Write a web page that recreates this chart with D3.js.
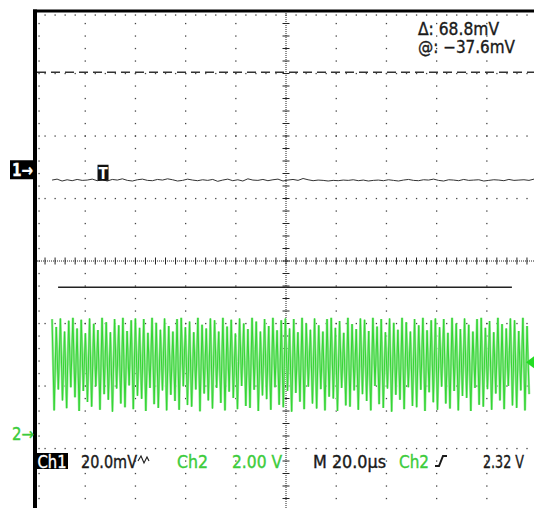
<!DOCTYPE html>
<html>
<head>
<meta charset="utf-8">
<script src="https://cdn.jsdelivr.net/npm/d3@7"></script>
<style>
  html, body { margin: 0; padding: 0; background: #fff; }
  svg { display: block; }
</style>
</head>
<body>
<div id="scope"></div>
<script>
// Scope settings
const CH1_SCALE = 20;    // mV/div
const CH2_SCALE = 2;     // V/div
const TIME_SCALE = 20;   // µs/div
const CH1_POS = 1.46;    // div above center
const CH2_POS = -2.78;
const TRIG_TIME = 27.1;  // µs
const TRIG_LEVEL = 2.32; // V

// Cursor readout (mV, ch1)
const cursorAt = -37.6;
const cursorDelta = 68.8;

// Ch1 trace, mV, sampled every 2 µs from 6.8 µs
const ch1Start = 6.8;
const ch1Step = 2.0;
const ch1Trace = [
  -3.3,-3.0,-3.6,-3.2,-3.5,-3.1,-3.4,-3.3,-3.0,-3.5,
  -3.2,-3.6,-3.1,-3.3,-2.9,-3.4,-3.6,-3.2,-3.0,-3.4,
  -3.5,-3.1,-3.3,-2.9,-3.2,-3.6,-3.4,-3.0,-3.3,-3.5,
  -3.2,-3.4,-3.1,-3.7,-3.3,-3.0,-3.5,-3.2,-3.6,-2.9,
  -3.3,-3.4,-3.1,-3.5,-3.2,-3.0,-3.6,-3.3,-3.1,-3.4,
  -2.8,-3.2,-3.5,-3.3,-3.4,-3.6,-3.4,-3.5,-3.3,-3.4,
  -3.2,-3.5,-3.3,-3.6,-3.4,-3.3,-3.5,-3.2,-3.4,-3.6,
  -3.3,-3.1,-3.4,-3.5,-3.2,-3.3,-3.0,-3.4,-3.6,-3.2,
  -3.3,-3.5,-3.1,-3.4,-3.3,-3.2,-3.6,-3.4,-3.2,-3.3,
  -3.5,-3.1,-3.4,-3.3,-3.2,-3.4,-3.0
];

// Ch2 trace, V: peak high / low of each cycle, period 1.66 µs from 6.8 µs
const ch2Start = 6.8;
const ch2Period = 1.66;
const ch2Hi = [
  3.70,3.45,3.72,3.30,3.65,3.74,3.40,3.68,3.25,3.72,3.55,3.35,3.74,3.60,3.28,3.70,3.50,3.74,3.32,3.66,
  3.72,3.42,3.70,3.26,3.74,3.58,3.36,3.72,3.48,3.30,3.70,3.74,3.44,3.62,3.28,3.74,3.52,3.40,3.72,3.66,
  3.30,3.74,3.46,3.68,3.24,3.72,3.56,3.38,3.74,3.62,3.30,3.70,3.48,3.74,3.34,3.66,3.72,3.40,3.70,3.28,
  3.74,3.56,3.36,3.72,3.50,3.30,3.70,3.74,3.42,3.64,3.26,3.74,3.54,3.38,3.72,3.68,3.32,3.74,3.46,3.70,
  3.28,3.72,3.58,3.36,3.74,3.60,3.30,3.70,3.50,3.74,3.34,3.66,3.72,3.44,3.70,3.26,3.74,3.56,3.38,3.72,
  3.52,3.30,3.70,3.74,3.42,3.64,3.28,3.74,3.54,3.40,3.72,3.66,3.32,3.74,3.48
];
const ch2Lo = [
  0.78,1.45,1.10,0.85,1.52,1.20,0.76,1.40,1.05,0.90,1.55,0.80,1.30,1.12,0.74,1.48,1.00,0.88,1.58,0.82,
  1.25,1.15,0.76,1.50,0.98,0.86,1.42,0.78,1.28,1.08,0.80,1.55,0.95,0.90,1.45,0.75,1.32,1.10,0.84,1.50,
  1.02,0.78,1.38,1.18,0.82,1.56,0.92,0.86,1.44,0.76,1.26,1.14,0.80,1.52,0.96,0.88,1.40,0.74,1.34,1.06,
  0.82,1.54,1.00,0.84,1.46,0.78,1.22,1.16,0.76,1.50,0.94,0.90,1.42,0.80,1.30,1.08,0.78,1.56,0.98,0.86,
  1.48,0.74,1.28,1.12,0.82,1.52,0.92,0.88,1.44,0.76,1.36,1.04,0.80,1.54,1.00,0.84,1.40,0.78,1.24,1.18,
  0.76,1.50,0.96,0.90,1.46,0.80,1.32,1.10,0.82,1.56,0.94,0.86,1.42,0.78,1.30
];

// Bottom status line
const statusItems = [
  { text: "20.0mV", color: "black", x: 81, w: 56 },
  { text: "Ch2", color: "green", x: 177, w: 31 },
  { text: "2.00 V", color: "green", x: 232, w: 50 },
  { text: "M 20.0µs", color: "black", x: 313, w: 73 },
  { text: "Ch2", color: "green", x: 399, w: 30 },
  { text: "2.32 V", color: "black", x: 483, w: 41 }
];

(function () {
  const W = 534, H = 508;
  const GREEN = "#33d633";
  const GREEN_TXT = "#3ccc3c";
  const INK = "#1a1a1a";
  const FONT = "'Liberation Sans Narrow', 'DejaVu Sans Condensed', 'Liberation Sans', sans-serif";

  const svg = d3.select("#scope").append("svg")
    .attr("width", W).attr("height", H)
    .style("background", "#fff");

  // 10 x 8 division screen, partly cropped on the right and bottom
  const x = d3.scaleLinear().domain([0, 10 * TIME_SCALE]).range([35, 537]);
  const yD = d3.scaleLinear().domain([-4, 4]).range([511, 11]);
  const y1 = mv => yD(CH1_POS + mv / CH1_SCALE);
  const y2 = v => yD(CH2_POS + v / CH2_SCALE);

  const grid = svg.append("g");
  const minorX = d3.range(0, 10.001, 0.2).map(d => d * TIME_SCALE);
  const minorY = d3.range(-4, 4.001, 0.2);

  // dotted major lines
  const vDots = [];
  [1, 2, 3, 4, 6, 7, 8, 9].forEach(i => minorY.forEach(v => vDots.push([x(i * TIME_SCALE), yD(v)])));
  const hDots = [];
  [-3, -2, -1, 1, 2, 3].forEach(j => minorX.forEach(t => hDots.push([x(t), yD(j)])));
  // edge ticks
  minorX.forEach(t => hDots.push([x(t), yD(4) + 4]));
  minorY.forEach(v => vDots.push([x(0) + 4, yD(v)]));

  grid.selectAll("rect.dot").data(vDots.concat(hDots)).enter().append("rect")
    .attr("class", "dot")
    .attr("x", d => d[0] - 0.6).attr("y", d => d[1] - 0.6)
    .attr("width", 1.3).attr("height", 1.3)
    .attr("fill", "#444");

  // center crosshair
  grid.append("line")
    .attr("x1", x(0)).attr("x2", x(200)).attr("y1", yD(0)).attr("y2", yD(0))
    .attr("stroke", "#222").attr("stroke-width", 1).attr("stroke-dasharray", "1,1");
  grid.append("line")
    .attr("x1", x(100)).attr("x2", x(100)).attr("y1", yD(4)).attr("y2", yD(-4))
    .attr("stroke", "#222").attr("stroke-width", 1).attr("stroke-dasharray", "1,1");
  grid.selectAll("line.tx").data(minorX).enter().append("line")
    .attr("class", "tx")
    .attr("x1", d => x(d)).attr("x2", d => x(d))
    .attr("y1", yD(0) - 3.5).attr("y2", yD(0) + 3.5)
    .attr("stroke", "#222").attr("stroke-width", 1);
  grid.selectAll("line.ty").data(minorY).enter().append("line")
    .attr("class", "ty")
    .attr("y1", d => yD(d)).attr("y2", d => yD(d))
    .attr("x1", x(100) - 3.5).attr("x2", x(100) + 3.5)
    .attr("stroke", "#222").attr("stroke-width", 1);

  // frame (top and left edges visible)
  svg.append("line")
    .attr("x1", x(0) - 2).attr("x2", W).attr("y1", yD(4)).attr("y2", yD(4))
    .attr("stroke", "#000").attr("stroke-width", 3);
  svg.append("line")
    .attr("x1", x(0)).attr("x2", x(0)).attr("y1", yD(4) - 1.5).attr("y2", H)
    .attr("stroke", "#000").attr("stroke-width", 4);

  // cursors
  svg.append("line")
    .attr("x1", x(0) + 2).attr("x2", W)
    .attr("y1", y1(cursorAt + cursorDelta)).attr("y2", y1(cursorAt + cursorDelta))
    .attr("stroke", "#333").attr("stroke-width", 1.4).attr("stroke-dasharray", "9,5");
  svg.append("line")
    .attr("x1", x(9.2)).attr("x2", x(190))
    .attr("y1", y1(cursorAt)).attr("y2", y1(cursorAt))
    .attr("stroke", "#222").attr("stroke-width", 1.4);

  // ch2 trace
  const zig = [];
  ch2Hi.forEach((hi, i) => {
    const t = ch2Start + i * ch2Period;
    zig.push([t, hi]);
    zig.push([t + ch2Period / 2, ch2Lo[i]]);
  });
  const line2 = d3.line().x(d => x(d[0])).y(d => y2(d[1]));
  svg.append("path").datum(zig).attr("d", line2)
    .attr("fill", "none").attr("stroke", "#9be89b").attr("stroke-width", 2.4);
  svg.append("path").datum(zig).attr("d", line2)
    .attr("fill", "none").attr("stroke", GREEN).attr("stroke-width", 1);

  // ch1 trace
  const line1 = d3.line().x((d, i) => x(ch1Start + i * ch1Step)).y(d => y1(d));
  svg.append("path").datum(ch1Trace).attr("d", line1)
    .attr("fill", "none").attr("stroke", "#333").attr("stroke-width", 1);

  // trigger position marker
  const tx = x(TRIG_TIME);
  svg.append("rect").attr("x", tx - 5.5).attr("y", y1(0) - 5).attr("width", 11).attr("height", 16).attr("fill", "#111");
  svg.append("text").attr("x", tx).attr("y", y1(0) + 9)
    .attr("text-anchor", "middle").attr("fill", "#fff")
    .style("font-family", FONT).style("font-size", "15px").style("font-weight", 700).text("T");

  // trigger level arrow (right edge)
  const ty = y2(TRIG_LEVEL);
  svg.append("path")
    .attr("d", `M${W - 8},${ty} L${W},${ty - 6} L${W},${ty + 6} Z`)
    .attr("fill", "#22dd22");

  // text helper
  const txt = (sel, s, xx, yy, w, fill, size) => sel.append("text")
    .attr("x", xx).attr("y", yy)
    .attr("fill", fill).attr("stroke", fill).attr("stroke-width", 0.35)
    .attr("textLength", w).attr("lengthAdjust", "spacingAndGlyphs")
    .style("font-family", FONT).style("font-size", (size || 17) + "px")
    .text(s);

  // channel ground markers
  const g1 = y1(0);
  svg.append("rect").attr("x", 10).attr("y", g1 - 9.5).attr("width", 25).attr("height", 19).attr("fill", "#000");
  txt(svg, "1→", 12, g1 + 6, 21, "#fff", 17).style("font-weight", 700);
  const g2 = y2(0);
  txt(svg, "2→", 12, g2 + 5.5, 22, GREEN_TXT, 17);

  // cursor readout
  txt(svg, `Δ: ${cursorDelta.toFixed(1)}mV`, 418, 34.5, 81, INK, 17);
  txt(svg, `@: −${Math.abs(cursorAt).toFixed(1)}mV`, 418, 53, 97, INK, 17);

  // status line
  const BASE = 467.5;
  svg.append("rect").attr("x", 36).attr("y", 453).attr("width", 32).attr("height", 16).attr("fill", "#000");
  txt(svg, "Ch1", 37.5, BASE, 29, "#fff", 17);
  statusItems.forEach(d =>
    txt(svg, d.text, d.x, BASE, d.w, d.color === "green" ? GREEN_TXT : INK, 17));

  // bandwidth limit glyph after mV
  svg.append("path")
    .attr("d", `M138,461 L141,456 L144,463 L147,457 L149,461`)
    .attr("fill", "none").attr("stroke", INK).attr("stroke-width", 1.1);
  // rising edge glyph
  svg.append("path")
    .attr("d", `M435,466 L439,466 L443,456 L447,456`)
    .attr("fill", "none").attr("stroke", INK).attr("stroke-width", 2);
})();
</script>
</body>
</html>
